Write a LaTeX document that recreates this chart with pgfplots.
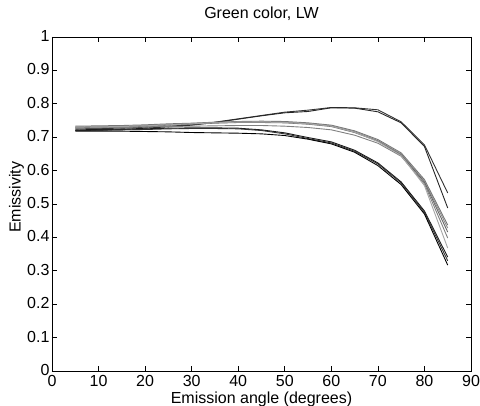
\documentclass[border=0pt]{standalone}
\usepackage{fontspec}
\setmainfont{Liberation Sans}
\usepackage{pgfplots}
\pgfplotsset{compat=1.18}
\begin{document}
\begin{tikzpicture}
\begin{axis}[
  name=ax,
  scale only axis,
  width=419bp, height=334bp,
  xmin=0, xmax=90, ymin=0, ymax=1,
  xtick={0,10,...,90},
  ytick={0,0.1,...,1.01},
  tick align=inside,
  major tick length=5bp,
  tick style={black, line width=0.6pt},
  axis line style={black, line width=0.9pt},
  /pgf/number format/assume math mode=true,
  yticklabel style={/pgf/number format/fixed, /pgf/number format/precision=1},
  tick label style={font=\fontsize{16bp}{18bp}\selectfont},
  xticklabel style={yshift=-1bp},
  yticklabel style={xshift=1bp, yshift=1bp},
  title={Green color, LW},
  title style={font=\fontsize{16bp}{18bp}\selectfont, at={(axis description cs:0.5,1.052)}, anchor=center},
  xlabel={Emission angle (degrees)},
  xlabel style={font=\fontsize{16bp}{18bp}\selectfont, at={(axis description cs:0.5,-0.084)}, anchor=center},
  ylabel={Emissivity},
  ylabel style={font=\fontsize{16bp}{18bp}\selectfont, at={(axis description cs:-0.085,0.52)}, anchor=center},
  every axis plot/.append style={line width=0.9pt, no markers},
]
% Group A (dark grey, upper)
\addplot[black!80] coordinates {(5,0.725)(10,0.726)(15,0.727)(20,0.73)(25,0.733)(30,0.737)(35,0.745)(40,0.755)(45,0.765)(50,0.775)(55,0.781)(60,0.789)(65,0.788)(70,0.782)(75,0.746)(80,0.677)(85,0.533)};
\addplot[black!85] coordinates {(5,0.72)(10,0.721)(15,0.723)(20,0.727)(25,0.731)(30,0.736)(35,0.744)(40,0.754)(45,0.764)(50,0.773)(55,0.777)(60,0.788)(65,0.787)(70,0.776)(75,0.743)(80,0.672)(85,0.488)};
% Group B (grey)
\addplot[black!55] coordinates {(5,0.733)(10,0.734)(15,0.735)(20,0.737)(25,0.74)(30,0.742)(35,0.745)(40,0.747)(45,0.748)(50,0.747)(55,0.743)(60,0.736)(65,0.719)(70,0.693)(75,0.653)(80,0.573)(85,0.437)};
\addplot[black!45] coordinates {(5,0.731)(10,0.732)(15,0.733)(20,0.735)(25,0.738)(30,0.741)(35,0.744)(40,0.746)(45,0.746)(50,0.745)(55,0.741)(60,0.734)(65,0.717)(70,0.69)(75,0.65)(80,0.569)(85,0.428)};
\addplot[black!60] coordinates {(5,0.729)(10,0.73)(15,0.731)(20,0.733)(25,0.736)(30,0.739)(35,0.742)(40,0.744)(45,0.744)(50,0.743)(55,0.739)(60,0.732)(65,0.714)(70,0.688)(75,0.647)(80,0.565)(85,0.416)};
\addplot[black!50] coordinates {(5,0.727)(10,0.728)(15,0.729)(20,0.731)(25,0.732)(30,0.733)(35,0.734)(40,0.735)(45,0.735)(50,0.733)(55,0.729)(60,0.722)(65,0.706)(70,0.682)(75,0.643)(80,0.56)(85,0.398)};
\addplot[black!35] coordinates {(5,0.73)(10,0.731)(15,0.732)(20,0.734)(25,0.737)(30,0.74)(35,0.743)(40,0.745)(45,0.745)(50,0.744)(55,0.74)(60,0.733)(65,0.715)(70,0.687)(75,0.645)(80,0.555)(85,0.368)};
% Group C (black, lower)
\addplot[black!90] coordinates {(5,0.722)(10,0.723)(15,0.724)(20,0.725)(25,0.727)(30,0.728)(35,0.728)(40,0.727)(45,0.722)(50,0.713)(55,0.699)(60,0.686)(65,0.661)(70,0.623)(75,0.566)(80,0.479)(85,0.341)};
\addplot[black!80] coordinates {(5,0.72)(10,0.721)(15,0.722)(20,0.723)(25,0.725)(30,0.726)(35,0.726)(40,0.725)(45,0.72)(50,0.71)(55,0.696)(60,0.683)(65,0.658)(70,0.62)(75,0.563)(80,0.475)(85,0.33)};
\addplot[black] coordinates {(5,0.718)(10,0.718)(15,0.718)(20,0.717)(25,0.716)(30,0.714)(35,0.713)(40,0.712)(45,0.71)(50,0.705)(55,0.694)(60,0.68)(65,0.655)(70,0.615)(75,0.558)(80,0.47)(85,0.317)};
\end{axis}
\pgfresetboundingbox
\path (ax.south west) ++(-52bp,-35bp) coordinate (bl);
\path (ax.north east) ++(9bp,37bp) coordinate (tr);
\useasboundingbox (bl) rectangle (tr);
\end{tikzpicture}
\end{document}
